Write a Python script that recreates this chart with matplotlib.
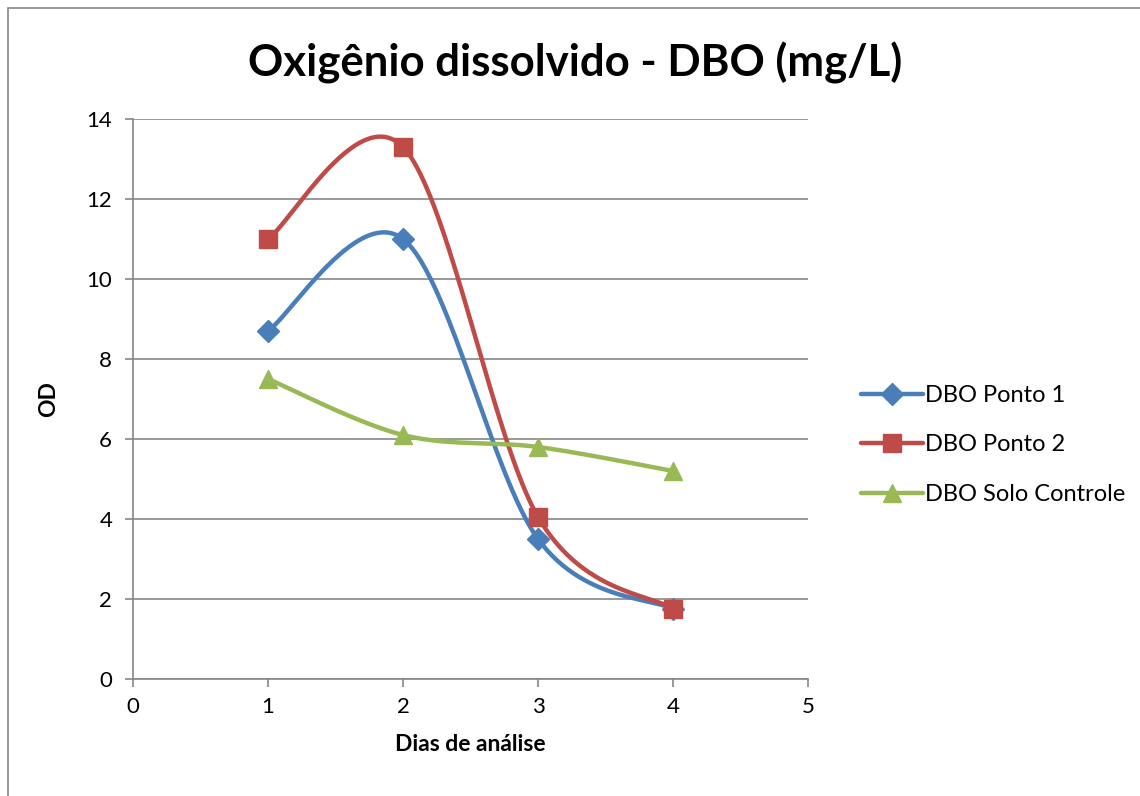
import numpy as np
import matplotlib
matplotlib.use("Agg")
import matplotlib.pyplot as plt
from matplotlib.lines import Line2D
from matplotlib.patches import Rectangle

plt.rcParams['font.family'] = ['Lato', 'DejaVu Sans']

days = [1, 2, 3, 4]
ponto1 = [8.7, 11.0, 3.5, 1.75]
ponto2 = [11.0, 13.3, 4.05, 1.75]
solo = [7.5, 6.1, 5.8, 5.2]
labels = ["DBO Ponto 1", "DBO Ponto 2", "DBO Solo Controle"]
colors = ["#4A7EBB", "#BE4B48", "#98B954"]
markers = ["D", "s", "^"]
msizes = [11, 13, 13]
title = "Oxigênio dissolvido - DBO (mg/L)"
xlabel = "Dias de análise"
ylabel = "OD"


def smooth(x, y, n=60):
    P = np.column_stack([x, y]).astype(float)
    P = np.vstack([P[0], P, P[-1]])
    out = []
    t = np.linspace(0, 1, n)[:, None]
    for i in range(1, len(P) - 2):
        p0, p1 = P[i], P[i + 1]
        c1 = p0 + (P[i + 1] - P[i - 1]) / 6
        c2 = p1 - (P[i + 2] - P[i]) / 6
        seg = ((1 - t) ** 3) * p0 + 3 * ((1 - t) ** 2) * t * c1 + 3 * (1 - t) * t ** 2 * c2 + t ** 3 * p1
        out.append(seg)
    a = np.vstack(out)
    return a[:, 0], a[:, 1]


fig = plt.figure(figsize=(11.4, 7.96), dpi=100)
fig.patches.append(Rectangle((8 / 1140, -0.1), 1.2, (796 - 8) / 796 + 0.1,
                             transform=fig.transFigure, fill=False,
                             edgecolor="#868686", linewidth=1.2))
ax = fig.add_axes([133 / 1140, 1 - 679 / 796, (808 - 133) / 1140, (679 - 119) / 796])

handles = []
for ys, c, m, ms, lab in zip([ponto1, ponto2, solo], colors, markers, msizes, labels):
    sx, sy = smooth(days, ys)
    ax.plot(sx, sy, color=c, lw=3.2, solid_capstyle='round', zorder=3)
    ax.plot(days, ys, linestyle='none', marker=m, markersize=ms, color=c, zorder=4)
    handles.append(Line2D([], [], color=c, lw=3.2, marker=m, markersize=ms,
                          solid_capstyle='round'))

ax.set_xlim(0, 5)
ax.set_ylim(0, 14)
ax.set_xticks(range(0, 6))
ax.set_yticks(range(0, 15, 2))
ax.yaxis.grid(True, color="#868686", lw=1.2)
ax.set_axisbelow(True)
for s in ["top", "right"]:
    ax.spines[s].set_visible(False)
for s in ["left", "bottom"]:
    ax.spines[s].set_color("#868686")
    ax.spines[s].set_linewidth(1.2)
ax.tick_params(axis='both', colors="#868686", labelcolor="black", labelsize=16,
               length=6, width=1.2, direction='out')
ax.tick_params(axis='x', pad=7)
ax.tick_params(axis='y', pad=9)

ax.set_xlabel(xlabel, fontsize=16.5, fontweight='bold', labelpad=12)
ax.set_ylabel(ylabel, fontsize=16.5, fontweight='bold', labelpad=20)
fig.text(575 / 1140, 1 - 63 / 796, title, fontsize=31.5, fontweight='bold',
         ha='center', va='center')

fig.legend(handles=handles, labels=labels, loc='center left',
           bbox_to_anchor=(852 / 1140, 1 - 445 / 796), frameon=False,
           fontsize=17, handlelength=2.6, handletextpad=0.1, labelspacing=1.2,
           borderaxespad=0)

fig.savefig("out.png", dpi=100)
